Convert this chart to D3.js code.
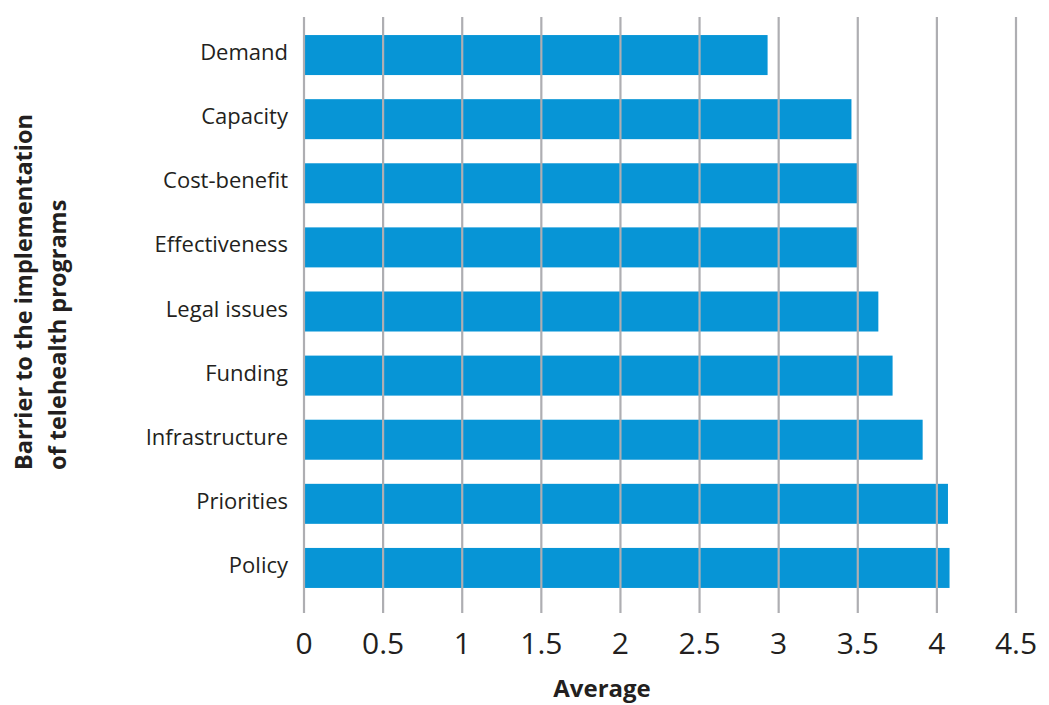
<!DOCTYPE html>
<html>
<head>
<meta charset="utf-8">
<script src="https://cdn.jsdelivr.net/npm/d3@7"></script>
<style>
  html, body { margin: 0; padding: 0; background: #ffffff; }
  svg { display: block; }
</style>
</head>
<body>
<svg id="chart" width="1049" height="705"></svg>
<script>
const categories = ["Demand", "Capacity", "Cost-benefit", "Effectiveness", "Legal issues", "Funding", "Infrastructure", "Priorities", "Policy"];
const values = [2.93, 3.46, 3.50, 3.50, 3.63, 3.72, 3.91, 4.07, 4.08];
const tickValues = [0, 0.5, 1, 1.5, 2, 2.5, 3, 3.5, 4, 4.5];
const tickLabels = ["0", "0.5", "1", "1.5", "2", "2.5", "3", "3.5", "4", "4.5"];
const xTitle = "Average";
const yTitleLines = ["Barrier to the implementation", "of telehealth programs"];

const svg = d3.select("#chart");
const font = "'Open Sans', 'Noto Sans', sans-serif";
const textColor = "#231f20";

const x = d3.scaleLinear().domain([0, 4.5]).range([304, 1016]);
const y = d3.scaleBand().domain(categories).range([23, 600]).paddingInner(0.376).paddingOuter(0.188);

const gridTop = 17, gridBottom = 613;

// bars
svg.append("g").selectAll("rect")
  .data(categories.map((c, i) => ({ c, v: values[i] })))
  .join("rect")
  .attr("x", x(0))
  .attr("y", d => y(d.c))
  .attr("width", d => x(d.v) - x(0))
  .attr("height", y.bandwidth())
  .attr("fill", "#0795d6");

// gridlines (drawn over bars)
svg.append("g").selectAll("line")
  .data(tickValues)
  .join("line")
  .attr("x1", d => x(d)).attr("x2", d => x(d))
  .attr("y1", gridTop).attr("y2", gridBottom)
  .attr("stroke", "#aeaeb2")
  .attr("stroke-width", 2.2);

// x tick labels
svg.append("g").selectAll("text")
  .data(tickValues)
  .join("text")
  .attr("x", d => x(d))
  .attr("y", 654)
  .attr("text-anchor", "middle")
  .attr("font-family", font)
  .attr("font-size", 30)
  .attr("fill", textColor)
  .text((d, i) => tickLabels[i]);

// category labels
svg.append("g").selectAll("text")
  .data(categories)
  .join("text")
  .attr("x", 288)
  .attr("y", d => y(d) + y.bandwidth() / 2)
  .attr("dy", "0.23em")
  .attr("text-anchor", "end")
  .attr("font-family", font)
  .attr("font-size", 22)
  .attr("fill", textColor)
  .text(d => d);

// x axis title
svg.append("text")
  .attr("x", 602)
  .attr("y", 697)
  .attr("text-anchor", "middle")
  .attr("font-family", font)
  .attr("font-size", 24)
  .attr("font-weight", "bold")
  .attr("fill", textColor)
  .text(xTitle);

// y axis title (two lines, rotated)
const yt = svg.append("text")
  .attr("transform", "translate(32,470) rotate(-90)")
  .attr("text-anchor", "start")
  .attr("font-family", font)
  .attr("font-size", 23.5)
  .attr("font-weight", "bold")
  .attr("fill", textColor);
yt.selectAll("tspan")
  .data(yTitleLines)
  .join("tspan")
  .attr("x", 0)
  .attr("dy", (d, i) => i === 0 ? 0 : 34)
  .text(d => d);
</script>
</body>
</html>
